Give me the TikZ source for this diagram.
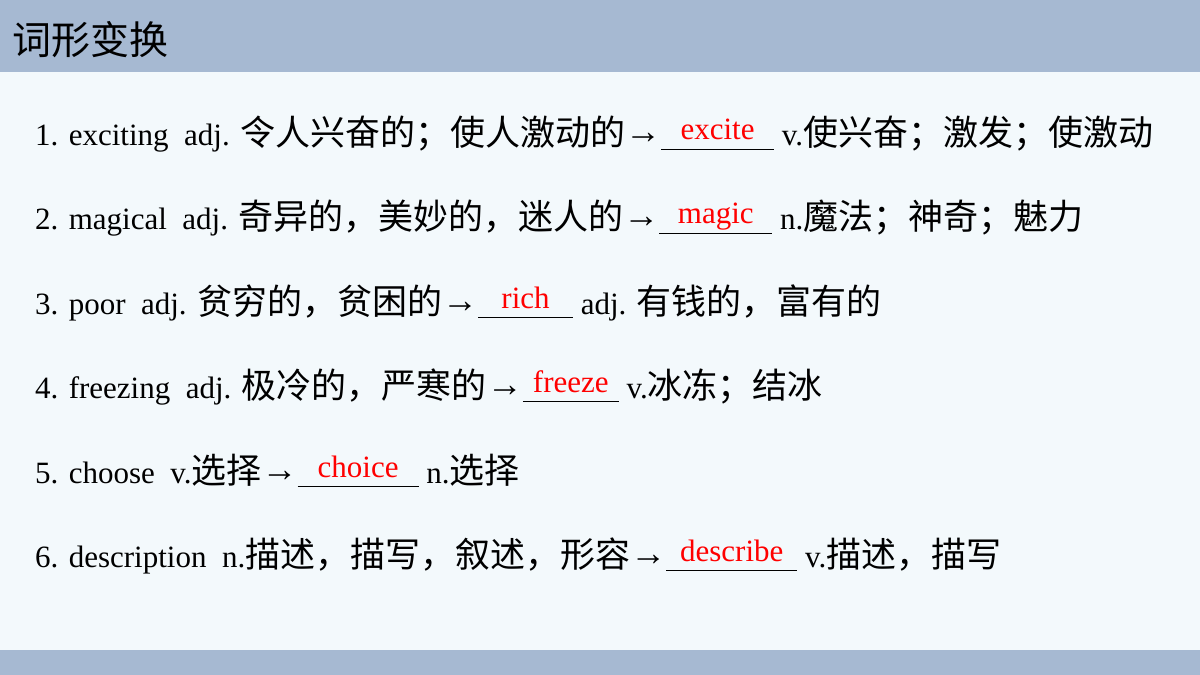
\documentclass[tikz,border=0pt]{standalone}
\usepackage{fontspec}
\setmainfont{Liberation Serif}
\newfontfamily\cjk{Noto Sans CJK SC}
\newcommand\zh[1]{{\fontsize{35bp}{37bp}\cjk #1}}
\newcommand\arr{{\fontsize{36bp}{38bp}\selectfont\raisebox{2bp}{→}}}
\newcommand\blk[2]{\rlap{\rule[-4bp]{#1}{1.3bp}}\makebox[#1]{\raisebox{6bp}{\textcolor{red}{#2}}}}
\definecolor{barc}{HTML}{A6B9D2}
\definecolor{bgc}{HTML}{F3F9FC}
\begin{document}
\begin{tikzpicture}[x=1bp,y=-1bp,
  line/.style={anchor=base west,inner sep=0pt,font=\fontsize{31bp}{33bp}\selectfont}]
\useasboundingbox (0,0) rectangle (1200,675);
\fill[bgc] (0,0) rectangle (1200,675);
\fill[barc] (0,0) rectangle (1200,72);
\fill[barc] (0,650) rectangle (1200,675);
\node[anchor=base west,inner sep=0pt,font=\fontsize{39bp}{41bp}\selectfont\cjk] (title) at (12,55) {词形变换};
\node[line] (l1) at (35,146) {1. exciting\ \ adj. \zh{令人兴奋的；使人激动的}\arr\blk{113bp}{excite} v.\zh{使兴奋；激发；使激动}};
\node[line] (l2) at (35,230) {2. magical\ \ adj. \zh{奇异的，美妙的，迷人的}\arr\blk{113bp}{magic}\ n.\zh{魔法；神奇；魅力}};
\node[line] (l3) at (35,314) {3. poor\ \ adj. \zh{贫穷的，贫困的}\arr\blk{95bp}{rich} adj. \zh{有钱的，富有的}};
\node[line] (l4) at (35,398) {4. freezing\ \ adj. \zh{极冷的，严寒的}\arr\blk{96bp}{freeze}\ v.\zh{冰冻；结冰}};
\node[line] (l5) at (35,483) {5. choose\ \ v.\zh{选择}\arr\blk{121bp}{choice} n.\zh{选择}};
\node[line] (l6) at (35,567) {6. description\ \ n.\zh{描述，描写，叙述，形容}\arr\blk{131bp}{describe} v.\zh{描述，描写}};
\end{tikzpicture}
\end{document}
